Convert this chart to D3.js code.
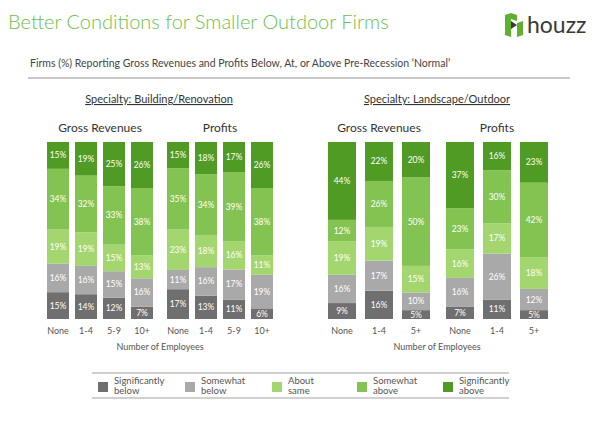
<!DOCTYPE html>
<html><head><meta charset="utf-8">
<script src="https://cdn.jsdelivr.net/npm/d3@7"></script>
<style>
html,body{margin:0;padding:0;background:#fff;}
svg{display:block;font-family:Lato,"Open Sans",sans-serif;}
</style></head>
<body><svg id="c" width="600" height="439"></svg>
<script>
const seriesKeys = ["Significantly below","Somewhat below","About same","Somewhat above","Significantly above"];
const legendLines = [["Significantly","below"],["Somewhat","below"],["About","same"],["Somewhat","above"],["Significantly","above"]];
const seriesColors = ["#6f6f6f","#a9a9a9","#a3d66e","#82c352","#4f9b23"];
const brEmployees = ["None","1-4","5-9","10+"];
const loEmployees = ["None","1-4","5+"];
const brRevenues = [[15,16,19,34,15],[14,16,19,32,19],[12,15,15,33,25],[7,16,13,38,26]];
const brProfits  = [[17,11,23,35,15],[13,16,18,34,18],[11,17,16,39,17],[6,19,11,38,26]];
const loRevenues = [[9,16,19,12,44],[16,17,19,26,22],[5,10,15,50,20]];
const loProfits  = [[7,16,16,23,37],[11,26,17,30,16],[5,12,18,42,23]];

const svg = d3.select("#c");
const green = "#6dbf4b";

// Title
svg.append("text").attr("x",8).attr("y",29).attr("fill",green)
  .style("font-size","20px").style("font-weight",300).text("Better Conditions for Smaller Outdoor Firms");

// houzz logo
const logo = svg.append("g").attr("transform","translate(505,13)");
logo.append("path").attr("fill","#5fb030").attr("d","M0,2 L6,0 L6,24 L0,22 Z");
logo.append("path").attr("fill","#5fb030").attr("d","M6,0 L12,2 L12,8 L6,6 Z");
logo.append("path").attr("fill","#5fb030").attr("d","M12,10 L18,8 L18,22 L12,24 Z");
logo.append("path").attr("fill","#3a3a3a").attr("d","M6,8 L12,12 L6,16 Z");
svg.append("text").attr("x",527).attr("y",33).attr("fill","#3a3a3a")
  .style("font-size","23px").text("houzz");

// subtitle
svg.append("text").attr("x",30).attr("y",67).attr("fill","#444")
  .style("font-size","10.5px").text("Firms (%) Reporting Gross Revenues and Profits Below, At, or Above Pre-Recession \u2018Normal\u2019");
svg.append("line").attr("x1",28).attr("x2",570).attr("y1",78).attr("y2",78)
  .attr("stroke","#c8c8c8").attr("stroke-width",2);

// specialty headers
function specialty(x, t){
  svg.append("text").attr("x",x).attr("y",103).attr("text-anchor","middle")
    .attr("fill","#333").style("font-size","11px").style("text-decoration","underline").text(t);
}
specialty(159,"Specialty: Building/Renovation");
specialty(437,"Specialty: Landscape/Outdoor");

const y = d3.scaleLinear().domain([0,1]).range([319,142]);
const stack = d3.stack().keys(d3.range(seriesKeys.length)).offset(d3.stackOffsetExpand);

function panel(title, cats, values, range, pad){
  const x = d3.scaleBand().domain(cats).range(range).paddingInner(pad).paddingOuter(pad/2);
  const cx = (range[0]+range[1])/2;
  svg.append("text").attr("x",cx).attr("y",132).attr("text-anchor","middle")
    .attr("fill","#333").style("font-size","12px").text(title);
  const rows = values.map((v,i)=>{const o={cat:cats[i]}; v.forEach((d,j)=>o[j]=d); return o;});
  const series = stack(rows);
  const g = svg.append("g");
  series.forEach((s,si)=>{
    const sg = g.append("g");
    sg.selectAll("rect").data(s).join("rect")
      .attr("x",d=>x(d.data.cat)).attr("width",x.bandwidth())
      .attr("y",d=>y(d[1])).attr("height",d=>y(d[0])-y(d[1]))
      .attr("fill",seriesColors[si]);
    sg.selectAll("text").data(s).join("text")
      .attr("x",d=>x(d.data.cat)+x.bandwidth()/2)
      .attr("y",d=>(y(d[0])+y(d[1]))/2+3)
      .attr("text-anchor","middle").attr("fill","#fff").style("font-size","8.5px")
      .text(d=>d.data[si]+"%");
  });
  const ax = svg.append("g").attr("transform","translate(0,319)")
    .call(d3.axisBottom(x).tickSize(0).tickPadding(9));
  ax.select(".domain").remove();
  ax.selectAll("text").attr("fill","#555").style("font-size","9px").style("font-family","Lato, sans-serif");
}
panel("Gross Revenues", brEmployees, brRevenues, [44,156], 6/28);
panel("Profits", brEmployees, brProfits, [164,276], 6/28);
panel("Gross Revenues", loEmployees, loRevenues, [323.5,434.5], 9/37);
panel("Profits", loEmployees, loProfits, [441.5,552.5], 9/37);

svg.append("text").attr("x",160).attr("y",350).attr("text-anchor","middle").attr("fill","#555")
  .style("font-size","9px").text("Number of Employees");
svg.append("text").attr("x",437).attr("y",350).attr("text-anchor","middle").attr("fill","#555")
  .style("font-size","9px").text("Number of Employees");

// legend
svg.append("line").attr("x1",92).attr("x2",509).attr("y1",373).attr("y2",373).attr("stroke","#d0d0d0").attr("stroke-width",2);
svg.append("line").attr("x1",92).attr("x2",509).attr("y1",398).attr("y2",398).attr("stroke","#d0d0d0").attr("stroke-width",2);
const legX = [98,185,272,357,443];
const lg = svg.append("g").selectAll("g").data(seriesKeys).join("g")
  .attr("transform",(d,i)=>`translate(${legX[i]},382)`);
lg.append("rect").attr("width",10).attr("height",10).attr("fill",(d,i)=>seriesColors[i]);
lg.each(function(d,i){
  const t = d3.select(this).append("text").attr("x",16).attr("y",2).attr("fill","#555").style("font-size","9.5px");
  t.append("tspan").attr("x",16).attr("dy",0).text(legendLines[i][0]);
  t.append("tspan").attr("x",16).attr("dy",10).text(legendLines[i][1]);
});
</script></body></html>
